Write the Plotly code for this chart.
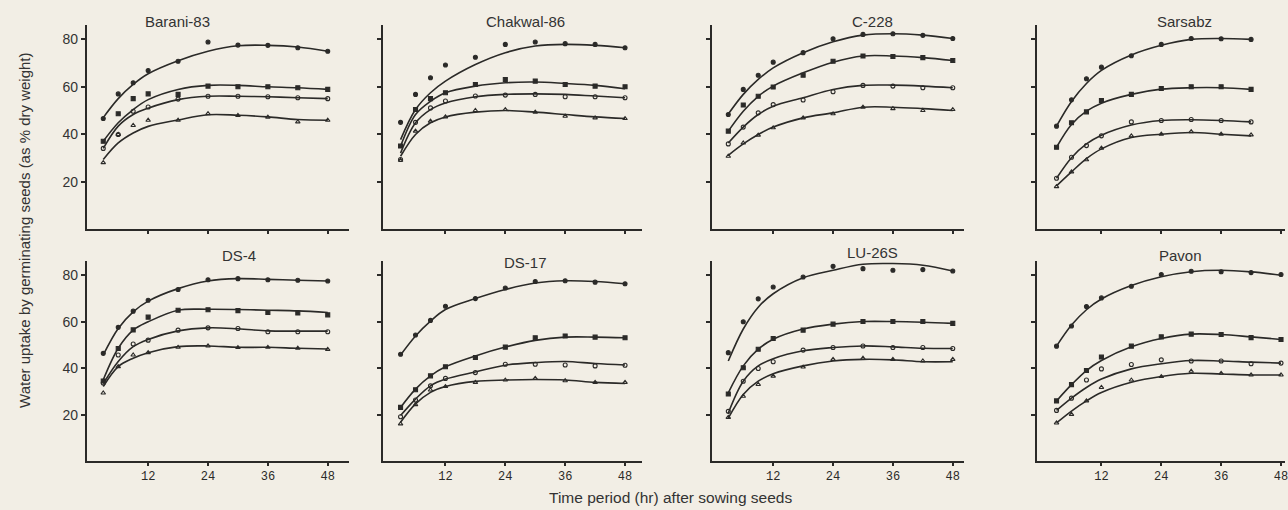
import plotly.graph_objects as go

# ---------------- data ----------------
panel_names = ["Barani-83", "Chakwal-86", "C-228", "Sarsabz",
               "DS-4", "DS-17", "LU-26S", "Pavon"]

hours = [3, 6, 9, 12, 18, 24, 30, 36, 42, 48]
hours_sarsabz = [3, 6, 9, 12, 18, 24, 30, 36, 42]
x_tick_vals = [12, 24, 36, 48]
x_tick_text = ["12", "24", "36", "48"]
y_tick_vals = [20, 40, 60, 80]
y_tick_text = ["20", "40", "60", "80"]

# observed points (4 series per cultivar)
barani83_points = [
    [46.6, 57.0, 61.7, 66.9, 70.8, 78.9, 77.6, 77.5, 76.5, 75.0],
    [37.0, 48.6, 55.0, 57.0, 56.8, 60.3, 60.0, 60.0, 59.6, 58.9],
    [34.0, 39.9, 49.7, 51.5, 54.8, 56.0, 56.0, 55.8, 55.4, 55.0],
    [28.0, 39.9, 43.7, 45.9, 45.9, 48.7, 47.9, 47.2, 45.2, 45.9],
]
barani83_curves = [
    [47.0, 55.0, 61.0, 65.5, 71.0, 75.0, 77.3, 77.5, 76.8, 75.0],
    [37.0, 44.8, 50.4, 54.6, 58.9, 60.6, 60.6, 60.0, 59.6, 58.9],
    [34.0, 43.4, 48.3, 51.0, 54.6, 56.0, 56.0, 55.8, 55.4, 55.0],
    [29.3, 36.3, 40.5, 43.3, 46.0, 48.2, 48.0, 47.3, 46.2, 45.9],
]
chakwal86_points = [
    [45.0, 56.8, 63.8, 69.2, 72.5, 77.9, 78.9, 78.2, 77.9, 76.5],
    [35.0, 50.4, 55.0, 57.5, 61.0, 63.1, 62.4, 61.0, 60.3, 60.0],
    [29.3, 45.0, 51.1, 54.0, 56.1, 56.5, 56.8, 55.8, 55.8, 55.4],
    [29.0, 41.3, 45.5, 47.3, 50.0, 50.4, 49.3, 47.6, 46.9, 46.6],
]
chakwal86_curves = [
    [37.7, 50.4, 57.5, 62.4, 69.4, 74.4, 77.2, 77.9, 77.5, 76.5],
    [34.9, 48.3, 53.9, 57.5, 60.3, 61.7, 62.0, 61.4, 60.6, 59.2],
    [32.0, 44.8, 50.4, 53.2, 55.8, 56.8, 57.0, 56.8, 56.1, 55.4],
    [30.7, 39.9, 44.8, 47.3, 49.3, 50.0, 49.3, 48.3, 47.3, 46.6],
]
c228_points = [
    [48.3, 58.9, 64.9, 70.4, 74.4, 80.3, 82.1, 82.4, 81.7, 80.4],
    [41.3, 52.3, 56.0, 59.9, 64.9, 70.8, 73.0, 72.8, 72.3, 71.1],
    [35.9, 43.0, 49.0, 52.5, 54.4, 57.9, 60.6, 60.3, 59.6, 59.6],
    [30.7, 36.3, 39.6, 42.7, 46.9, 48.6, 51.4, 50.8, 50.0, 50.4],
]
c228_curves = [
    [48.5, 56.8, 63.1, 68.0, 74.4, 79.0, 81.8, 82.4, 81.8, 80.4],
    [41.3, 49.7, 56.0, 60.3, 65.9, 70.4, 73.0, 73.0, 72.3, 71.1],
    [36.3, 43.0, 48.3, 51.8, 55.4, 58.9, 60.6, 60.7, 60.3, 59.6],
    [31.1, 35.9, 39.9, 43.0, 46.9, 49.0, 51.4, 51.4, 50.8, 50.0],
]
sarsabz_points = [
    [43.4, 54.5, 63.4, 68.3, 73.1, 77.9, 80.4, 80.3, 80.0],
    [34.5, 44.8, 49.4, 54.2, 56.8, 59.3, 60.0, 60.0, 58.9],
    [21.4, 30.3, 35.2, 39.3, 45.2, 45.8, 46.2, 45.8, 45.2],
    [17.9, 24.1, 29.2, 34.1, 39.3, 40.0, 41.1, 40.0, 39.7],
]
sarsabz_curves = [
    [43.4, 53.8, 61.4, 66.9, 73.4, 77.5, 80.0, 80.4, 80.0],
    [34.5, 44.1, 49.7, 53.1, 56.8, 59.0, 59.6, 59.6, 58.9],
    [21.4, 30.1, 35.9, 39.6, 43.9, 45.8, 46.1, 45.8, 45.2],
    [18.2, 24.1, 29.7, 33.8, 38.6, 40.0, 40.7, 40.0, 39.3],
]
ds4_points = [
    [46.4, 57.6, 64.6, 69.3, 73.9, 78.1, 78.6, 78.1, 77.9, 77.6],
    [34.5, 48.5, 56.5, 62.0, 65.0, 65.2, 64.8, 64.0, 63.8, 63.0],
    [33.6, 45.7, 50.4, 52.1, 56.4, 57.4, 57.1, 55.7, 55.7, 55.7],
    [29.3, 40.7, 45.7, 46.7, 49.0, 49.6, 48.9, 49.0, 48.6, 48.1],
]
ds4_curves = [
    [45.7, 57.1, 64.3, 68.9, 74.3, 77.6, 78.6, 78.3, 77.9, 77.6],
    [35.0, 48.6, 56.4, 60.0, 65.0, 65.4, 65.3, 65.0, 64.7, 64.0],
    [33.3, 42.9, 49.3, 52.4, 56.1, 57.4, 57.0, 56.1, 56.0, 56.0],
    [32.1, 40.7, 44.3, 46.7, 49.3, 49.6, 49.0, 49.0, 48.6, 48.3],
]
ds17_points = [
    [46.0, 54.3, 60.6, 66.7, 70.0, 74.6, 77.4, 77.7, 77.1, 76.4],
    [23.1, 30.7, 36.7, 40.6, 44.6, 49.1, 53.1, 53.9, 53.4, 53.1],
    [19.1, 26.3, 32.4, 35.6, 38.1, 41.7, 41.7, 41.4, 41.0, 41.3],
    [16.0, 24.3, 30.6, 32.1, 33.9, 34.9, 35.6, 34.6, 33.9, 33.9],
]
ds17_curves = [
    [45.7, 53.9, 60.3, 65.3, 70.0, 73.9, 76.7, 77.7, 77.4, 76.4],
    [23.1, 31.0, 36.7, 40.6, 45.3, 49.1, 52.0, 53.4, 53.4, 53.1],
    [19.6, 26.7, 32.4, 35.3, 38.4, 41.3, 42.4, 42.9, 42.0, 41.4],
    [16.7, 24.6, 29.6, 32.1, 34.3, 34.9, 35.1, 34.9, 33.9, 33.4],
]
lu26s_points = [
    [46.7, 60.0, 69.9, 75.0, 79.3, 83.9, 82.9, 82.2, 82.5, 81.9],
    [28.9, 40.2, 48.2, 52.8, 56.4, 59.0, 60.1, 60.1, 60.1, 59.3],
    [21.4, 34.4, 39.9, 42.8, 47.8, 48.9, 49.6, 48.9, 48.9, 48.5],
    [18.8, 27.9, 33.0, 36.6, 40.5, 43.8, 44.3, 43.8, 43.1, 43.8],
]
lu26s_curves = [
    [43.1, 56.9, 66.3, 72.1, 79.0, 82.2, 84.8, 85.1, 84.4, 81.9],
    [29.4, 41.0, 48.2, 52.5, 56.9, 59.0, 60.1, 60.1, 59.8, 59.3],
    [20.7, 34.4, 41.0, 44.1, 47.5, 48.9, 49.6, 49.2, 48.6, 48.5],
    [18.5, 28.7, 34.4, 37.6, 41.0, 43.1, 43.8, 43.6, 42.8, 42.8],
]
pavon_points = [
    [49.5, 58.2, 66.6, 70.3, 75.3, 80.4, 81.8, 81.6, 81.2, 80.4],
    [25.9, 32.9, 39.0, 44.8, 49.5, 53.5, 54.7, 54.5, 53.2, 52.4],
    [21.8, 27.1, 34.9, 39.7, 41.6, 43.6, 43.1, 43.1, 41.9, 42.2],
    [16.4, 20.1, 25.9, 31.7, 34.9, 36.4, 38.7, 37.8, 37.1, 37.1],
]
pavon_curves = [
    [49.5, 58.6, 65.2, 69.8, 75.6, 79.4, 81.6, 82.2, 81.5, 80.1],
    [25.9, 32.9, 39.0, 43.3, 49.2, 52.8, 54.7, 54.5, 53.5, 52.4],
    [21.8, 27.1, 31.7, 35.3, 39.7, 41.9, 43.3, 43.1, 42.6, 42.2],
    [16.4, 21.5, 25.9, 29.5, 33.9, 36.4, 37.8, 37.5, 37.1, 37.1],
]

panel_hours = [hours, hours, hours, hours_sarsabz, hours, hours, hours, hours]
panel_points = [barani83_points, chakwal86_points, c228_points, sarsabz_points,
                ds4_points, ds17_points, lu26s_points, pavon_points]
panel_curves = [barani83_curves, chakwal86_curves, c228_curves, sarsabz_curves,
                ds4_curves, ds17_curves, lu26s_curves, pavon_curves]

# ---------------- layout (pixels) ----------------
W, H = 1288, 510
INK = "#2b2a28"
TXT = "#333333"
col_left_px = [87, 384, 714, 1039]
col_xrange = [[-0.3, 52.3], [-0.5, 51.3], [-0.2, 50.2], [-1.0, 48.8]]
px_per_hr = 5.0
row_base_px = [229, 461]       # pixel y of the x-axis (value 0)
row_scale = [2.37, 2.32]       # pixels per unit of y
y_max = 86
title_pos = [(178, 22), (527, 22), (875, 22), (1187, 22),
             (240, 255), (527, 262), (875, 252), (1183, 255)]
symbols = ["circle", "square", "circle-open", "triangle-up-open"]

fig = go.Figure()
layout_axes = {}
annotations = []

for i, name in enumerate(panel_names):
    row, col = divmod(i, 4)
    idx = i + 1
    xa = "x" if idx == 1 else f"x{idx}"
    ya = "y" if idx == 1 else f"y{idx}"
    xr = col_xrange[col]
    x0 = col_left_px[col]
    x1 = x0 + (xr[1] - xr[0]) * px_per_hr
    yb = row_base_px[row]
    yt = yb - y_max * row_scale[row]
    xdom = [x0 / W, min(x1 / W, 1.0)]
    ydom = [(H - yb) / H, (H - yt) / H]

    hrs = panel_hours[i]
    for s in range(4):
        fig.add_trace(go.Scatter(
            x=hrs, y=panel_curves[i][s], mode="lines",
            line=dict(color=INK, width=1.6, shape="spline", smoothing=1.0),
            xaxis=xa, yaxis=ya, showlegend=False, hoverinfo="skip"))
        fig.add_trace(go.Scatter(
            x=hrs, y=panel_points[i][s], mode="markers",
            marker=dict(symbol=symbols[s], size=4, color=INK,
                        line=dict(color=INK, width=1.1)),
            xaxis=xa, yaxis=ya, showlegend=False, cliponaxis=False))

    show_x_labels = row == 1
    show_y_labels = col == 0
    layout_axes["xaxis" if idx == 1 else f"xaxis{idx}"] = dict(
        domain=xdom, range=xr, anchor=ya,
        tickvals=x_tick_vals, ticktext=x_tick_text,
        showticklabels=show_x_labels, ticklabeloverflow="allow",
        ticks="outside", ticklen=3, tickwidth=1.5, tickcolor=INK,
        showline=True, linecolor=INK, linewidth=2,
        showgrid=False, zeroline=False,
        tickfont=dict(family="Liberation Mono", size=12, color=INK),
    )
    layout_axes["yaxis" if idx == 1 else f"yaxis{idx}"] = dict(
        domain=ydom, range=[0, y_max], anchor=xa,
        tickvals=y_tick_vals, ticktext=y_tick_text,
        showticklabels=show_y_labels,
        ticks="outside", ticklen=4, tickwidth=1.5, tickcolor=INK,
        showline=True, linecolor=INK, linewidth=2,
        showgrid=False, zeroline=False,
        tickfont=dict(family="Liberation Sans", size=14, color=TXT),
    )
    tx, ty = title_pos[i]
    annotations.append(dict(
        text=name, x=tx / W, y=(H - ty) / H, xref="paper", yref="paper",
        showarrow=False, xanchor="center", yanchor="middle",
        font=dict(family="Liberation Sans", size=15, color=TXT)))

annotations.append(dict(
    text="Time period (hr) after sowing seeds", x=672 / W, y=(H - 497) / H,
    xref="paper", yref="paper", showarrow=False, xanchor="center", yanchor="middle",
    font=dict(family="Liberation Sans", size=15.5, color=TXT)))
annotations.append(dict(
    text="Water uptake by germinating seeds (as % dry weight)",
    x=25 / W, y=(H - 230) / H, xref="paper", yref="paper", showarrow=False,
    textangle=-90, xanchor="center", yanchor="middle",
    font=dict(family="Liberation Sans", size=15, color=TXT)))

fig.update_layout(
    width=W, height=H,
    margin=dict(l=0, r=0, t=0, b=0),
    paper_bgcolor="#f2eee5", plot_bgcolor="rgba(0,0,0,0)",
    annotations=annotations,
    **layout_axes,
)

fig.write_html(
    "out.html",
    config={"displayModeBar": False},
    post_script="document.body.style.margin='0';document.body.style.background='#f2eee5';",
)
